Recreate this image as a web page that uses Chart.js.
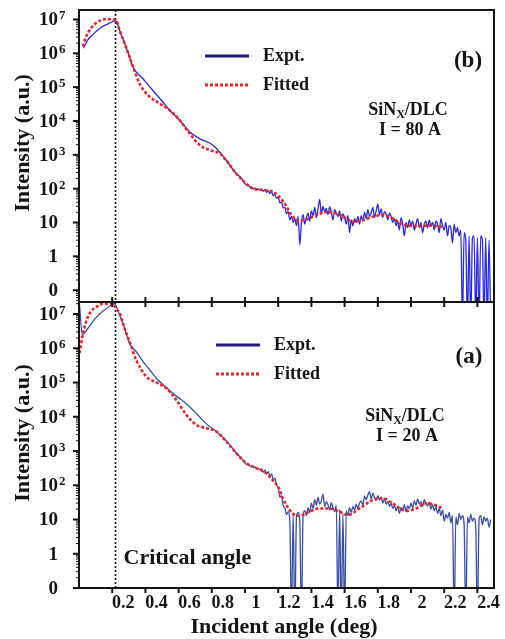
<!DOCTYPE html>
<html>
<head>
<meta charset="utf-8">
<script src="https://cdn.jsdelivr.net/npm/chart.js@4.4.1/dist/chart.umd.min.js"></script>
<style>
  html, body { margin: 0; padding: 0; background: #fff; }
  #wrap { position: relative; width: 505px; height: 639px; }
  canvas { position: absolute; left: 0; top: 0; }
</style>
</head>
<body>
<div id="wrap">
  <canvas id="panelA" width="505" height="639"></canvas>
  <canvas id="panelB" width="505" height="639"></canvas>
</div>
<script>
// shared angular grid of the noisy tail of both scans (deg)
const scanAngle = [
  1.00, 1.01, 1.02, 1.03, 1.04, 1.05, 1.06, 1.07, 1.08, 1.09,
  1.10, 1.11, 1.12, 1.13, 1.14, 1.15, 1.16, 1.17, 1.18, 1.19,
  1.20, 1.21, 1.22, 1.23, 1.24, 1.25, 1.26, 1.27, 1.28, 1.29,
  1.30, 1.31, 1.32, 1.33, 1.34, 1.35, 1.36, 1.37, 1.38, 1.39,
  1.40, 1.41, 1.42, 1.43, 1.44, 1.45, 1.46, 1.47, 1.48, 1.49,
  1.50, 1.51, 1.52, 1.53, 1.54, 1.55, 1.56, 1.57, 1.58, 1.59,
  1.60, 1.61, 1.62, 1.63, 1.64, 1.65, 1.66, 1.67, 1.68, 1.69,
  1.70, 1.71, 1.72, 1.73, 1.74, 1.75, 1.76, 1.77, 1.78, 1.79,
  1.80, 1.81, 1.82, 1.83, 1.84, 1.85, 1.86, 1.87, 1.88, 1.89,
  1.90, 1.91, 1.92, 1.93, 1.94, 1.95, 1.96, 1.97, 1.98, 1.99,
  2.00, 2.01, 2.02, 2.03, 2.04, 2.05, 2.06, 2.07, 2.08, 2.09,
  2.10, 2.11, 2.12, 2.13, 2.14, 2.15, 2.16, 2.17, 2.18, 2.19,
  2.20, 2.21, 2.22, 2.23, 2.24, 2.25, 2.26, 2.27, 2.28, 2.29,
  2.30, 2.31, 2.32, 2.33, 2.34, 2.35, 2.36, 2.37, 2.38, 2.39,
  2.40, 2.41, 2.42, 2.43, 2.44, 2.45, 2.46, 2.47, 2.48
];

// (b) I = 80 A
const topLeadAngle = [0.027, 0.053, 0.083, 0.113, 0.143, 0.174, 0.204, 0.217, 0.228, 0.244,
  0.274, 0.304, 0.324, 0.384, 0.444, 0.504, 0.545, 0.605, 0.666, 0.726, 0.806, 0.846, 0.887, 0.947, 0.98];
const topLead = [1.4e6, 2.5e6, 3.5e6, 4.9e6, 6.2e6, 7.4e6, 8.7e6, 9.1e6, 8.5e6, 4.9e6,
  2.0e6, 7.9e5, 4.0e5, 1.8e5, 8.1e4, 3.7e4, 2.1e4, 1.07e4, 4.8e3, 3.0e3, 1.95e3, 1.23e3, 690, 280, 200];
const topScan = [
  141, 128, 125, 112, 110, 98, 104, 95, 99, 90,
  95, 84, 92, 78, 86, 72, 80, 62, 70, 52,
  55, 38, 40, 27, 28, 18, 21, 12, 15, 10,
  13, 8, 15, 2.2, 10, 17, 9, 14, 19, 11,
  22, 16, 28, 14, 25, 48, 18, 30, 21, 26,
  17, 29, 20, 12, 24, 19, 15, 22, 11, 18,
  14, 9, 16, 5, 12, 8, 13, 10, 15, 9,
  16, 11, 20, 13, 24, 15, 19, 28, 14, 22,
  35, 17, 25, 14, 21, 18, 12, 19, 15, 10,
  13, 8, 11, 6, 14, 9, 4, 10, 7, 12,
  8, 11, 6, 9, 13, 7, 10, 5, 9, 11,
  7, 12, 8, 10, 6, 11, 9, 5, 13, 8,
  6, 10, 4, 8, 7, 2.5, 9, 5, 7, 4,
  6, 0.01, 5, 3, 0.01, 4, 0.01, 3.5, 4, 0.01,
  3.5, 0.01, 4, 3, 0.01, 3.5, 0.01, 3, 0.01
];
const topFitAngle = [0.023, 0.043, 0.073, 0.113, 0.164, 0.204, 0.228, 0.244, 0.274, 0.304,
  0.33, 0.364, 0.425, 0.485, 0.545, 0.605, 0.666, 0.726, 0.786, 0.846,
  0.887, 0.947, 1.007, 1.047, 1.107, 1.167, 1.23, 1.288, 1.328, 1.369,
  1.429, 1.489, 1.549, 1.61, 1.649, 1.71, 1.77, 1.83, 1.89, 1.95, 2.03, 2.11, 2.19];
const topFit = [1.6e6, 3.1e6, 5.5e6, 8.5e6, 1.02e7, 1.0e7, 8.5e6, 4.9e6, 2.0e6, 7.9e5,
  3.5e5, 1.29e5, 5.2e4, 3.3e4, 2.1e4, 1.07e4, 4.3e3, 1.95e3, 1.38e3, 1.1e3,
  690, 280, 141, 100, 91, 81, 42, 14.8, 11.2, 12.3,
  16.6, 20.4, 18.6, 13.2, 10.5, 11.7, 14.8, 16.6, 13.2, 8.9, 7.8, 8.1, 7.4];

// (a) I = 20 A
const botLeadAngle = [0.003, 0.02, 0.063, 0.10, 0.143, 0.184, 0.214, 0.244, 0.274, 0.304,
  0.345, 0.384, 0.425, 0.465, 0.525, 0.586, 0.646, 0.706, 0.766, 0.827, 0.887, 0.947, 0.98];
const botLead = [1.9e7, 2.5e6, 4.4e6, 7.6e6, 1.2e7, 1.66e7, 2.0e7, 9.5e6, 3.9e6, 1.4e6,
  7.9e5, 4.2e5, 2.4e5, 1.35e5, 7.1e4, 4.0e4, 2.4e4, 1.26e4, 6.3e3, 3.7e3, 2.0e3, 890, 600];
const botScan = [
  450, 405, 410, 360, 365, 330, 345, 305, 310, 290,
  300, 240, 275, 215, 250, 180, 215, 150, 160, 100,
  85, 45, 50, 25, 22, 14, 17, 9, 0.01, 15,
  0.01, 12, 16, 9, 0.01, 14, 18, 13, 22, 16,
  30, 21, 38, 26, 45, 28, 35, 55, 24, 33,
  27, 19, 31, 22, 17, 26, 0.01, 20, 0.01, 15,
  0.01, 18, 13, 22, 16, 24, 19, 28, 21, 30,
  35, 26, 48, 38, 52, 65, 40, 58, 44, 36,
  50, 37, 45, 30, 41, 28, 34, 24, 30, 21,
  26, 18, 24, 15, 22, 19, 27, 17, 25, 21,
  30, 22, 35, 26, 40, 28, 33, 24, 38, 29,
  25, 32, 20, 27, 18, 24, 15, 21, 13, 19,
  9, 14, 11, 16, 8, 13, 0.01, 12, 7, 15,
  10, 13, 7, 0.01, 12, 8, 14, 9, 11, 6,
  0.01, 10, 13, 7, 12, 9, 11, 6, 10
];
const botFitAngle = [0.003, 0.023, 0.043, 0.073, 0.113, 0.143, 0.204, 0.224, 0.244, 0.264,
  0.284, 0.304, 0.345, 0.405, 0.465, 0.525, 0.586, 0.646, 0.706, 0.766,
  0.827, 0.887, 0.947, 1.007, 1.067, 1.128, 1.17, 1.2, 1.228, 1.25,
  1.288, 1.328, 1.388, 1.449, 1.509, 1.569, 1.619, 1.69, 1.77, 1.83,
  1.89, 1.97, 2.03, 2.09, 2.15, 2.19];
const botFit = [7.2e5, 2.5e6, 6.0e6, 1.2e7, 1.7e7, 2.0e7, 2.0e7, 1.4e7, 1.07e7, 5.5e6,
  2.9e6, 1.6e6, 4.5e5, 1.5e5, 1.0e5, 6.9e4, 3.1e4, 1.15e4, 5.8e3, 4.7e3,
  3.7e3, 1.9e3, 870, 440, 316, 224, 135, 89, 42, 26,
  15, 12.9, 17, 21, 21, 17, 13.5, 21, 37, 42,
  29.5, 17.8, 21, 29.5, 26, 21];

const criticalAngle = 0.22;
const xTickValues = [0.2, 0.4, 0.6, 0.8, 1.0, 1.2, 1.4, 1.6, 1.8, 2.0, 2.2, 2.4];
const xTickLabels = ['0.2', '0.4', '0.6', '0.8', '1', '1.2', '1.4', '1.6', '1.8', '2', '2.2', '2.4'];
const yTickValues = [0.1, 1, 10, 1e2, 1e3, 1e4, 1e5, 1e6, 1e7];
const yTickBase = ['0', '1', '10', '10', '10', '10', '10', '10', '10'];
const yTickPower = ['', '', '', '2', '3', '4', '5', '6', '7'];

const SERIF = '"Liberation Serif", "Times New Roman", serif';
const INK = '#141414';

function points(angles, values) {
  return angles.map((a, i) => ({ x: a, y: values[i] }));
}

function text(ctx, str, x, y, size, align) {
  ctx.font = `bold ${size}px ${SERIF}`;
  ctx.textAlign = align || 'left';
  ctx.textBaseline = 'middle';
  ctx.fillText(str, x, y);
}

function seg(ctx, x1, y1, x2, y2) {
  ctx.beginPath();
  ctx.moveTo(x1, y1);
  ctx.lineTo(x2, y2);
  ctx.stroke();
}

function drawSample(ctx, cx, cy, current) {
  const big = `bold 18px ${SERIF}`;
  const small = `bold 12px ${SERIF}`;
  ctx.font = big;
  const w1 = ctx.measureText('SiN').width;
  const w3 = ctx.measureText('/DLC').width;
  ctx.font = small;
  const w2 = ctx.measureText('X').width;
  const x0 = cx - (w1 + w2 + w3) / 2;
  ctx.textAlign = 'left';
  ctx.textBaseline = 'alphabetic';
  ctx.font = big;
  ctx.fillText('SiN', x0, cy + 6);
  ctx.font = small;
  ctx.fillText('X', x0 + w1, cy + 9);
  ctx.font = big;
  ctx.fillText('/DLC', x0 + w1 + w2, cy + 6);
  text(ctx, current, cx + 2, cy + 21, 18, 'center');
}

// frame, ticks, labels and legend of one panel
function panelDecor(cfg) {
  return {
    id: 'panelDecor',
    beforeDatasetsDraw(chart) {
      const { ctx, chartArea: a, scales: { x } } = chart;
      const px = x.getPixelForValue(criticalAngle);
      ctx.save();
      ctx.strokeStyle = INK;
      ctx.lineWidth = 1.6;
      ctx.setLineDash([2, 2]);
      seg(ctx, px, a.top, px, a.bottom);
      ctx.restore();
    },
    afterDraw(chart) {
      const { ctx, chartArea: a, scales: { x, y } } = chart;
      ctx.save();
      ctx.strokeStyle = INK;
      ctx.fillStyle = INK;
      ctx.lineWidth = 2;
      ctx.strokeRect(a.left, a.top, a.right - a.left, a.bottom - a.top);

      // log minor ticks
      ctx.lineWidth = 1;
      for (let p = -2; p <= 7; p++) {
        for (let k = 2; k <= 9; k++) {
          const v = k * Math.pow(10, p);
          if (v < y.min || v > y.max) continue;
          const py = y.getPixelForValue(v);
          seg(ctx, a.left - 3, py, a.left, py);
        }
      }
      // major ticks with labels
      ctx.lineWidth = 2;
      yTickValues.forEach((v, i) => {
        const py = y.getPixelForValue(v);
        seg(ctx, a.left - 6, py, a.left, py);
        text(ctx, yTickBase[i], a.left - 21, py + 1, 19, 'right');
        if (yTickPower[i]) {
          ctx.font = `bold 13px ${SERIF}`;
          ctx.textAlign = 'left';
          ctx.textBaseline = 'alphabetic';
          ctx.fillText(yTickPower[i], a.left - 20, py);
        }
      });

      // angle ticks
      xTickValues.forEach((v, i) => {
        const px = x.getPixelForValue(v);
        if (cfg.ticksUp) seg(ctx, px, a.bottom, px, a.bottom - 5);
        if (cfg.ticksDown) seg(ctx, px, a.top, px, a.top + 5);
        if (cfg.angleAxis) {
          seg(ctx, px, a.bottom, px, a.bottom + 5);
          text(ctx, xTickLabels[i], px + 11, a.bottom + 15, 18, 'center');
        }
      });
      if (cfg.angleAxis) {
        text(ctx, 'Incident angle (deg)', 284, 627, 22, 'center');
        text(ctx, 'Critical angle', x.getPixelForValue(criticalAngle) + 8, 558, 22, 'left');
      }

      // axis title
      ctx.save();
      ctx.translate(23, cfg.titleY);
      ctx.rotate(-Math.PI / 2);
      text(ctx, 'Intensity (a.u.)', 0, 0, 22, 'center');
      ctx.restore();

      // legend
      const lg = cfg.legend;
      chart.data.datasets.forEach((ds, i) => {
        const ly = lg.y + i * 29;
        ctx.save();
        ctx.strokeStyle = i === 0 ? '#1c1c78' : ds.borderColor;
        ctx.lineWidth = 3;
        if (ds.borderDash) ctx.setLineDash([3, 2]);
        seg(ctx, lg.x, ly, lg.x + 44, ly);
        ctx.restore();
        text(ctx, ds.label, lg.x + 58, ly, 18, 'left');
      });

      text(ctx, cfg.tag, cfg.tagX, cfg.tagY, 23, 'center');
      drawSample(ctx, cfg.sampleX, cfg.sampleY, cfg.current);
      ctx.restore();
    },
  };
}

function makePanel(canvasId, cfg) {
  return new Chart(document.getElementById(canvasId), {
    type: 'line',
    data: {
      datasets: [
        {
          label: 'Expt.',
          data: points(cfg.exptAngle, cfg.expt),
          borderColor: cfg.exptColor,
          borderWidth: 1.3,
          pointRadius: 0,
          cubicInterpolationMode: 'monotone',
          clip: 0,
          order: 1,
        },
        {
          label: 'Fitted',
          data: points(cfg.fitAngle, cfg.fit),
          borderColor: '#e3262d',
          borderWidth: 2.6,
          borderDash: [3, 2],
          pointRadius: 0,
          cubicInterpolationMode: 'monotone',
          clip: 0,
          order: 0,
        },
      ],
    },
    options: {
      responsive: false,
      animation: false,
      events: [],
      layout: { padding: cfg.padding },
      plugins: { legend: { display: false }, tooltip: { enabled: false } },
      scales: {
        x: { type: 'linear', display: false, min: 0, max: 2.5 },
        y: { type: 'logarithmic', display: false, min: cfg.yMin, max: cfg.yMax },
      },
    },
    plugins: [panelDecor(cfg)],
  });
}

makePanel('panelA', {
  exptAngle: botLeadAngle.concat(scanAngle),
  expt: botLead.concat(botScan),
  fitAngle: botFitAngle,
  fit: botFit,
  exptColor: '#3a4ea6',
  padding: { left: 79, top: 302, right: 11, bottom: 51 },
  yMin: 0.1,
  yMax: 2.24e7,
  ticksDown: true,
  angleAxis: true,
  titleY: 433,
  legend: { x: 216, y: 345 },
  tag: '(a)', tagX: 469, tagY: 357,
  sampleX: 405, sampleY: 415, current: 'I = 20 A',
});

makePanel('panelB', {
  exptAngle: topLeadAngle.concat(scanAngle),
  expt: topLead.concat(topScan),
  fitAngle: topFitAngle,
  fit: topFit,
  exptColor: '#2a2ad0',
  padding: { left: 79, top: 10, right: 11, bottom: 337 },
  yMin: 0.0447,
  yMax: 1.9e7,
  ticksUp: true,
  titleY: 143,
  legend: { x: 205, y: 56 },
  tag: '(b)', tagX: 468, tagY: 61,
  sampleX: 408, sampleY: 109, current: 'I = 80 A',
});
</script>
</body>
</html>
